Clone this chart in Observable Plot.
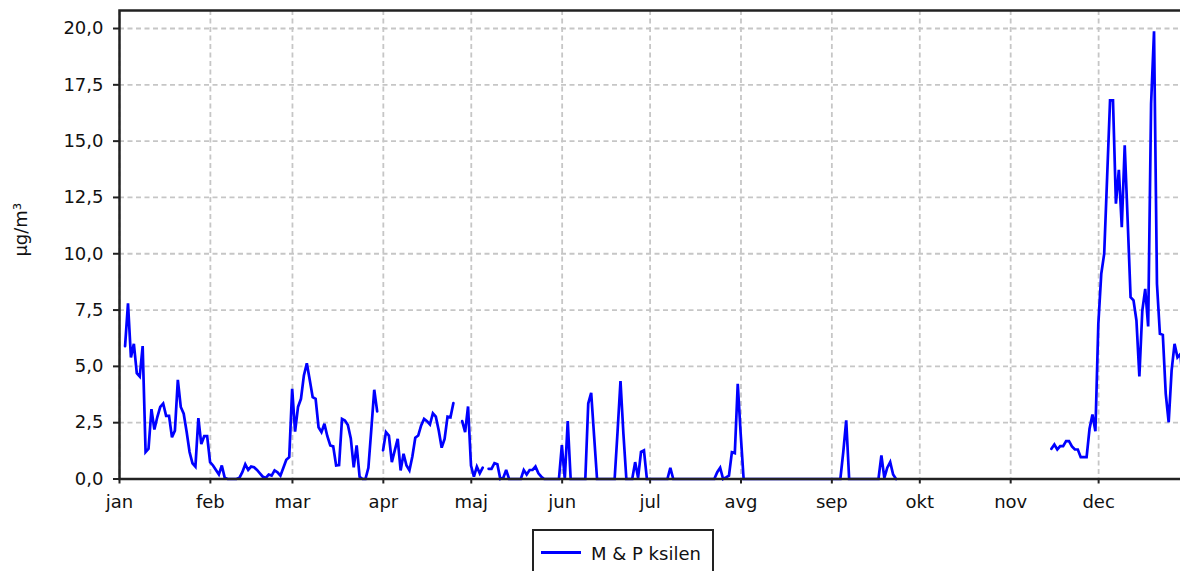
<!DOCTYPE html>
<html>
<head>
<meta charset="utf-8">
<script src="https://cdn.jsdelivr.net/npm/d3@7"></script>
<script src="https://cdn.jsdelivr.net/npm/@observablehq/plot@0.6"></script>
<style>
  html, body { margin: 0; padding: 0; overflow: hidden; background: #fff; width: 1180px; height: 571px; }
  #wrap { position: relative; width: 1180px; height: 571px; overflow: hidden; font-family: "DejaVu Sans", sans-serif; }
  #wrap svg { max-width: none !important; display: block; }
  #legend { position: absolute; left: 532px; top: 529px; width: 182px; height: 60px; border: 2px solid #222; background: #fff; box-sizing: border-box; }
  #legend .swatch { position: absolute; left: 7px; top: 20px; width: 40px; height: 2.5px; background: #0000ff; }
  #legend .lbl { position: absolute; left: 57px; top: 14px; font-size: 18px; line-height: 18px; color: #111; white-space: nowrap; }
</style>
</head>
<body>
<div id="wrap"></div>
<script>
// Month ticks (day of year) and labels
const monthStarts = [0, 31, 59, 90, 120, 151, 181, 212, 243, 273, 304, 334];
const monthLabels = ["jan", "feb", "mar", "apr", "maj", "jun", "jul", "avg", "sep", "okt", "nov", "dec"];
const yTicks = [0, 2.5, 5, 7.5, 10, 12.5, 15, 17.5, 20];
const seriesName = "M & P ksilen";
const yLabel = "µg/m³";

// Daily values (µg/m³), null = no measurement
const jan = [5.9, 7.8, 5.4, 6.0, 4.7, 4.55, 5.9, 1.2, 1.35, 3.1, 2.2, 2.75, 3.2, 3.35, 2.8, 2.8, 1.85, 2.15, 4.4, 3.2, 2.9, 2.1, 1.2, 0.7, 0.55, 2.7, 1.55, 1.9, 1.9, 0.75, 0.6];
const feb = [0.4, 0.2, 0.6, 0.05, 0, 0, 0, 0, 0.05, 0.3, 0.65, 0.4, 0.55, 0.52, 0.4, 0.25, 0.1, 0.05, 0.2, 0.15, 0.38, 0.3, 0.15, 0.5, 0.85, 0.97, 4.0, 2.1];
const mar = [3.2, 3.56, 4.6, 5.14, 4.4, 3.63, 3.56, 2.3, 2.08, 2.45, 1.9, 1.49, 1.45, 0.6, 0.62, 2.67, 2.6, 2.4, 1.8, 0.52, 1.49, 0.1, 0, 0, 0.5, 2.2, 3.96, 3.0, null, 1.27, 2.08];
const apr = [1.93, 0.75, 1.27, 1.78, 0.38, 1.12, 0.6, 0.38, 1.0, 1.83, 1.93, 2.38, 2.67, 2.57, 2.42, 2.92, 2.77, 2.15, 1.39, 1.78, 2.77, 2.74, 3.37, null, null, 2.57, 2.08, 3.22, 0.6, 0.1];
const maj = [0.55, 0.25, 0.5, null, 0.45, 0.45, 0.7, 0.65, 0, 0.05, 0.4, 0, 0, 0, 0, 0, 0.4, 0.2, 0.4, 0.4, 0.55, 0.25, 0.1, 0, 0, 0, 0, 0, 0, 1.5, 0];
const jun = [2.57, 0, 0, 0, 0, 0, 0, 3.35, 3.82, 1.9, 0, 0, 0, 0, 0, 0, 0, 2.1, 4.35, 2.0, 0, 0, 0, 0.75, 0.05, 1.2, 1.27, 0, 0, 0];
const jul = [0, 0, 0, 0, 0, 0.5, 0, 0, 0, 0, 0, 0, 0, 0, 0, 0, 0, 0, 0, 0, 0, 0.3, 0.5, 0, 0.07, 0.15, 1.19, 1.15, 4.23, 2.0];
const avg = [0, 0, 0, 0, 0, 0, 0, 0, 0, 0, 0, 0, 0, 0, 0, 0, 0, 0, 0, 0, 0, 0, 0, 0, 0, 0, 0, 0, 0, 0, 0, 0];
const sep = [0, 0, 1.2, 2.6, 0, 0, 0, 0, 0, 0, 0, 0, 0, 0, 0, 1.05, 0.05, 0.5, 0.75, 0.2, 0, null, null, null, null, null, null, null, null, null];
const okt = [null, null, null, null, null, null, null, null, null, null, null, null, null, null, null, null, null, null, null, null, null, null, null, null, null, null, null, null, null, null, null];
const nov = [null, null, null, null, null, null, null, null, null, null, null, null, 1.34, 1.53, 1.31, 1.46, 1.46, 1.68, 1.68, 1.45, 1.31, 1.31, 0.97, 0.97, 0.97, 2.23, 2.86, 2.12, 6.89, 9.11];
const dec = [10.0, 13.4, 16.81, 16.81, 12.22, 13.73, 11.18, 14.81, 11.5, 8.07, 7.93, 7.04, 4.55, 7.48, 8.44, 6.77, 16.66, 19.88, 8.67, 6.45, 6.4, 3.78, 2.52, 4.82, 6.0, 5.4, 5.55, 4.0];

const dayOffset = 1.9; // where the daily samples sit relative to the month ticks
const values = [].concat(jan, feb, mar, apr, maj, jun, jul, avg, sep, okt, nov, dec);
const data = values.map((v, i) => ({day: i + dayOffset, value: v}));

const fmt = d => d.toFixed(1).replace(".", ",");
const gridStyle = {stroke: "#c6c6c6", strokeOpacity: 1, strokeWidth: 1.8, strokeDasharray: "5,3.5"};

const chart = Plot.plot({
  width: 1190,
  height: 522,
  marginTop: 10,
  marginBottom: 43.5,
  marginLeft: 119,
  marginRight: 1,
  style: {fontFamily: "DejaVu Sans, sans-serif", fontSize: "18px", color: "#111", background: "white", maxWidth: "none"},
  x: {domain: [0, 365]},
  y: {domain: [0, 20.8]},
  marks: [
    Plot.gridX(monthStarts, gridStyle),
    Plot.gridY(yTicks, gridStyle),
    Plot.line(data, {x: "day", y: "value", stroke: "#0000ff", strokeWidth: 2.7, curve: "linear", strokeLinejoin: "miter", strokeMiterlimit: 3}),
    Plot.frame({stroke: "#222", strokeWidth: 2.5}),
    Plot.axisY({ticks: yTicks, tickFormat: fmt, tickSize: 6, tickPadding: 10, label: null, stroke: "#222", strokeWidth: 2, fontSize: 18, fill: "#111"}),
    Plot.axisX({ticks: monthStarts, tickFormat: d => monthLabels[monthStarts.indexOf(d)], tickSize: 5, tickPadding: 11, label: null, stroke: "#222", strokeWidth: 2, fontSize: 18, fill: "#111"}),
    Plot.text([yLabel], {frameAnchor: "left", textAnchor: "middle", dx: -98, dy: -15, rotate: -90, fontSize: 18, fill: "#111"})
  ]
});

const wrap = document.getElementById("wrap");
wrap.appendChild(chart);
const legend = document.createElement("div");
legend.id = "legend";
legend.innerHTML = '<div class="swatch"></div><div class="lbl"></div>';
legend.querySelector(".lbl").textContent = seriesName;
wrap.appendChild(legend);
</script>
</body>
</html>
